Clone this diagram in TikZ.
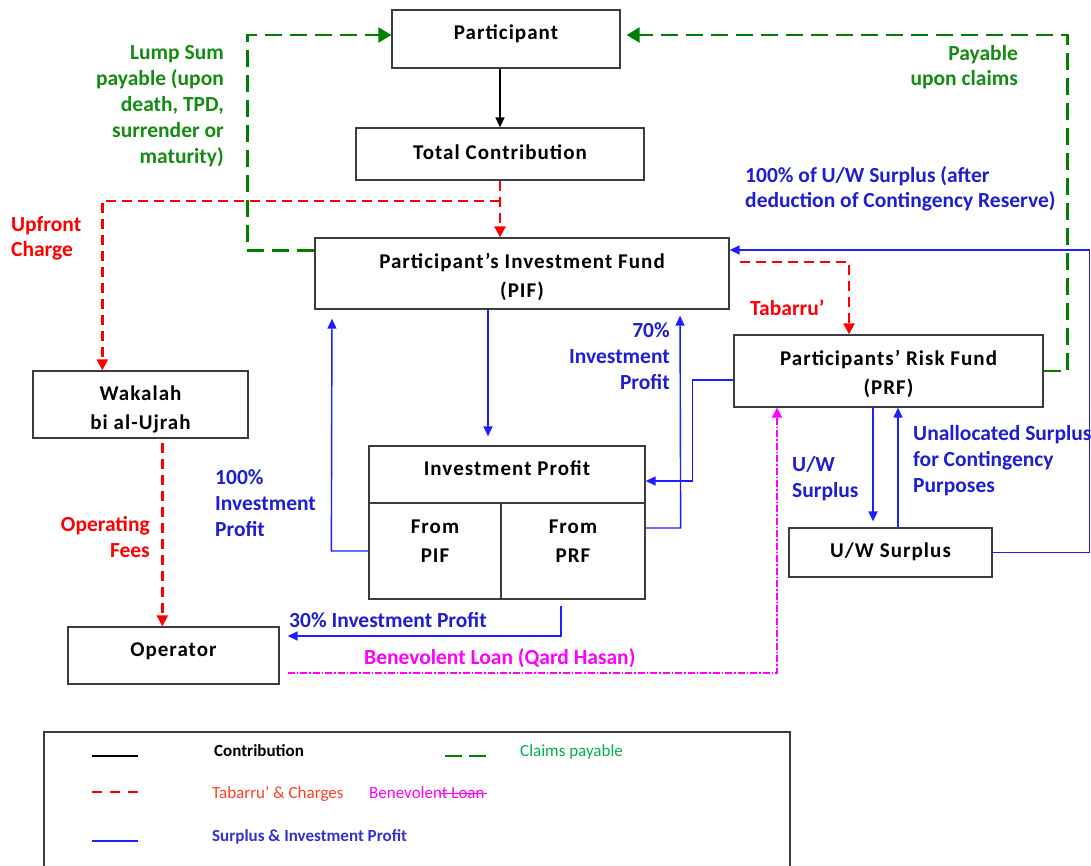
\documentclass[tikz,border=0pt]{standalone}
\usepackage{fontspec}
\setmainfont{Carlito}
\newfontfamily\boxfont[LetterSpace=5]{Carlito}
\usetikzlibrary{arrows.meta}
\definecolor{bgray}{RGB}{60,60,60}
\definecolor{grn}{RGB}{0,128,0}
\definecolor{grntxt}{RGB}{20,140,20}
\definecolor{blu}{RGB}{30,30,255}
\definecolor{blutxt}{RGB}{30,30,210}
\definecolor{mag}{RGB}{255,0,255}
\definecolor{redc}{RGB}{255,0,0}
\definecolor{leggrn}{RGB}{0,176,80}
\definecolor{legred}{RGB}{255,64,32}
\definecolor{legblu}{RGB}{51,51,204}
\begin{document}
\begin{tikzpicture}[x=1pt,y=-1pt,
 box/.style={draw=bgray,line width=1.3pt,rectangle,inner sep=0pt},
 btxt/.style={font=\boxfont\bfseries\fontsize{21}{29}\selectfont,align=center,inner sep=0pt,text height=14pt,text depth=0pt},
 lab/.style={font=\bfseries\fontsize{21.5}{26}\selectfont,inner sep=0pt,text height=14pt,text depth=0pt},
 labb/.style={lab,font=\bfseries\fontsize{21.5}{25}\selectfont},
 legt/.style={font=\fontsize{17}{19}\selectfont,inner sep=0pt,text height=10pt,text depth=0pt,anchor=west},
 blk/.style={draw=black,line width=1.3pt,-{Triangle[length=10pt,width=9pt]}},
 reda/.style={draw=redc,line width=2.4pt,dash pattern=on 10pt off 6pt,-{Triangle[length=11pt,width=11pt]}},
 grna/.style={draw=grn,line width=2.6pt,dash pattern=on 17pt off 8pt,-{Triangle[length=13pt,width=15pt]}},
 barrow/.style={draw=blu,line width=1.4pt,-{Triangle[length=10pt,width=9pt]}},
 marrow/.style={draw=mag,line width=1.1pt,dash pattern=on 7pt off 2pt on 1.5pt off 2pt,-{Triangle[length=10pt,width=10pt]}}
]
\useasboundingbox[fill=white] (0,0) rectangle (1091,865);

% boxes
\node[box,minimum width=228pt,minimum height=58pt] (part) at (506,39) {};
\node[btxt] (partT) at (506,32) {Participant};
\node[box,minimum width=288pt,minimum height=52pt] (tc) at (500,154) {};
\node[btxt] (tcT) at (500,152) {Total Contribution};
\node[box,minimum width=414pt,minimum height=71pt] (pif) at (522,273.5) {};
\node[btxt] (pifT) at (522,290) {Participant’s Investment Fund\\(PIF)};
\node[box,minimum width=215pt,minimum height=67pt] (wak) at (140.5,404.5) {};
\node[btxt] (wakT) at (140.5,422) {Wakalah\\bi al-Ujrah};
\node[box,minimum width=211pt,minimum height=57pt] (op) at (173.5,655.5) {};
\node[btxt] (opT) at (173.5,649) {Operator};
\node[box,minimum width=276pt,minimum height=57pt] (iptop) at (507,474.5) {};
\node[btxt] (iptopT) at (507,468) {Investment Profit};
\node[box,minimum width=132pt,minimum height=96pt] (ipl) at (435,551) {};
\node[btxt] (iplT) at (435,555) {From\\PIF};
\node[box,minimum width=144pt,minimum height=96pt] (ipr) at (573,551) {};
\node[btxt] (iprT) at (573,555) {From\\PRF};
\node[box,minimum width=309pt,minimum height=72pt] (prf) at (888.5,371) {};
\node[btxt] (prfT) at (888.5,387) {Participants’ Risk Fund\\(PRF)};
\node[box,minimum width=203pt,minimum height=49pt] (uw) at (890.5,552.5) {};
\node[btxt] (uwT) at (890.5,550) {U/W Surplus};

% connectors
\draw[blk] (part.south -| tc.north) -- (tc.north);
\draw[reda] (tc.south) -- (tc.south |- pif.north);
\draw[reda] (tc.south |- 0,201) -| ([xshift=70pt]wak.north west);
\draw[reda,shorten <=4pt] ([xshift=130pt]wak.south west) -- ([xshift=95pt]op.north west);
\draw[grna] ([yshift=-13pt]pif.north west) -- ++(-67,0) |- ([yshift=4pt]part.west);
\draw[grna,shorten >=6pt] (prf.east) -- ++(24,0) |- ([yshift=4pt]part.east);
\draw[barrow] (uw.east) -- ++(97,0) |- ([yshift=23.5pt]pif.east);
\draw[reda,shorten <=10pt] ([yshift=11.5pt]pif.east) -| ([xshift=-39.5pt]prf.north);
\draw[barrow,shorten >=9pt] ([xshift=-34pt]pif.south) -- ([xshift=-19pt]iptop.north);
\draw[barrow,shorten >=9pt] (ipl.west) -- ++(-37,0) -- ([xshift=-190pt]pif.south);
\draw[barrow,shorten >=6pt] ([yshift=23pt]ipr.east) -- ++(35,0) -- ([xshift=158pt]pif.south);
\draw[barrow] ([yshift=-9pt]prf.west) -- ++(-41,0) |- ([yshift=-6.5pt]iptop.east);
\draw[barrow,shorten >=6pt] ([xshift=-15.5pt]prf.south) -- ([xshift=-17.5pt]uw.north);
\draw[barrow] ([xshift=7.5pt]uw.north) -- ([xshift=9.5pt]prf.south);
\draw[barrow,shorten <=6pt,shorten >=8pt] ([xshift=-12pt]ipr.south) |- ([yshift=19.5pt]op.east);
\draw[marrow,shorten <=8pt] ([yshift=-17.5pt]op.east) -| ([xshift=-111.5pt]prf.south);

% labels (y = centre of last line)
\node[lab,text=grntxt,anchor=east,align=right] (l1) at (224,156) {Lump Sum\\payable (upon\\death, TPD,\\surrender or\\maturity)};
\node[labb,text=redc,anchor=west,align=left] (l2) at (11,249) {Upfront\\Charge};
\node[labb,text=grntxt,anchor=east,align=right] (l3) at (1018,78) {Payable\\upon claims};
\node[labb,text=blutxt,anchor=west,align=left] (l4) at (745,200) {100\% of U/W Surplus (after\\deduction of Contingency Reserve)};
\node[lab,text=redc,anchor=west] (l5) at (750,308) {Tabarru’};
\node[lab,text=blutxt,anchor=east,align=right] (l6) at (670,382) {70\%\\Investment\\Profit};
\node[lab,text=blutxt,anchor=west,align=left] (l7) at (215,529) {100\%\\Investment\\Profit};
\node[lab,text=redc,anchor=east,align=right] (l8) at (150,550) {Operating\\Fees};
\node[lab,text=blutxt,anchor=west,align=left] (l9) at (792,490) {U/W\\Surplus};
\node[lab,text=blutxt,anchor=west,align=left] (l10) at (913,485) {Unallocated Surplus\\for Contingency\\Purposes};
\node[lab,text=blutxt,anchor=west] (l11) at (289,620) {30\% Investment Profit};
\node[lab,text=mag,anchor=west] (l12) at (364,657) {Benevolent Loan (Qard Hasan)};

% legend
\draw[bgray,line width=1.2pt] (44,866) -- (44,732) -- (790,732) -- (790,866);
\draw[black,line width=1.2pt] (92,756) -- (138,756);
\draw[grn,line width=2.6pt,dash pattern=on 17pt off 7pt] (445,756) -- (486,756);
\draw[redc,line width=2.6pt,dash pattern=on 10pt off 8pt] (92,792) -- (138,792);
\draw[blu,line width=1.2pt] (92,841) -- (138,841);
\node[legt,font=\bfseries\fontsize{17}{19}\selectfont] (g1) at (214,751) {Contribution};
\node[legt,text=leggrn] (g2) at (520,751) {Claims payable};
\node[legt,text=legred] (g3) at (212,793) {Tabarru’ \& Charges};
\node[legt,text=mag] (g4) at (369,793) {Benevolent Loan};
\draw[mag,line width=1pt] (439,793) -- (487,793);
\node[legt,text=legblu,font=\bfseries\fontsize{17}{19}\selectfont] (g5) at (212,836) {Surplus \& Investment Profit};
\end{tikzpicture}
\end{document}
